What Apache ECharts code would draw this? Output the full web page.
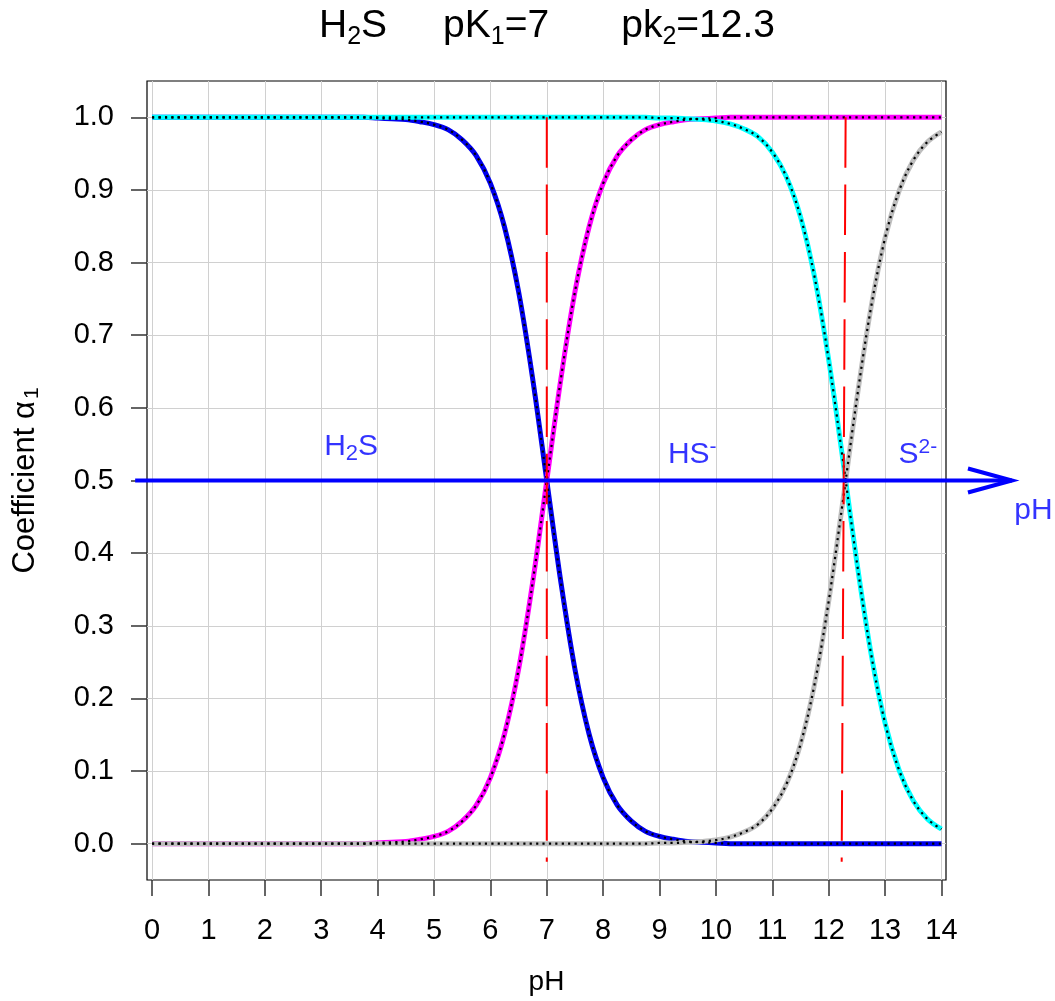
<!DOCTYPE html>
<html>
<head>
<meta charset="utf-8">
<script src="https://cdn.jsdelivr.net/npm/echarts@6/dist/echarts.min.js"></script>
<style>
html, body { margin: 0; padding: 0; background: #fff; }
#chart { width: 1055px; height: 1001px; }
</style>
</head>
<body>
<div id="chart"></div>
<script>
var ph = [0, 0.25, 0.5, 0.75, 1, 1.25, 1.5, 1.75, 2, 2.25, 2.5, 2.75, 3, 3.25, 3.5, 3.75,
  4, 4.25, 4.5, 4.75, 5, 5.25, 5.5, 5.75, 6, 6.25, 6.5, 6.75, 7, 7.25, 7.5, 7.75,
  8, 8.25, 8.5, 8.75, 9, 9.25, 9.5, 9.75, 10, 10.25, 10.5, 10.75, 11, 11.25, 11.5, 11.75,
  12, 12.25, 12.5, 12.75, 13, 13.25, 13.5, 13.75, 14];

// blue: H2S
var alphaBlue = [1, 1, 1, 1, 1, 1, 1, 1, 1, 1, 1, 1, 1, 1, 1, 1,
  0.999, 0.998, 0.997, 0.994, 0.990, 0.983, 0.969, 0.947, 0.909, 0.849, 0.760, 0.640, 0.500, 0.360, 0.240, 0.151,
  0.091, 0.053, 0.031, 0.017, 0.010, 0.006, 0.003, 0.002, 0.001, 0, 0, 0, 0, 0, 0, 0,
  0, 0, 0, 0, 0, 0, 0, 0, 0];
// magenta: HS- (first step)
var alphaMagenta = [0, 0, 0, 0, 0, 0, 0, 0, 0, 0, 0, 0, 0, 0, 0, 0,
  0.001, 0.002, 0.003, 0.006, 0.010, 0.017, 0.031, 0.053, 0.091, 0.151, 0.240, 0.360, 0.500, 0.640, 0.760, 0.849,
  0.909, 0.947, 0.969, 0.983, 0.990, 0.994, 0.997, 0.998, 0.999, 1, 1, 1, 1, 1, 1, 1,
  1, 1, 1, 1, 1, 1, 1, 1, 1];
// cyan: HS- (second step)
var alphaCyan = [1, 1, 1, 1, 1, 1, 1, 1, 1, 1, 1, 1, 1, 1, 1, 1,
  1, 1, 1, 1, 1, 1, 1, 1, 1, 1, 1, 1, 1, 1, 1, 1,
  1, 1, 1, 1, 0.999, 0.999, 0.998, 0.997, 0.995, 0.991, 0.984, 0.973, 0.952, 0.918, 0.863, 0.780,
  0.666, 0.529, 0.387, 0.262, 0.166, 0.101, 0.059, 0.034, 0.020];
// gray: S2-
var alphaGray = [0, 0, 0, 0, 0, 0, 0, 0, 0, 0, 0, 0, 0, 0, 0, 0,
  0, 0, 0, 0, 0, 0, 0, 0, 0, 0, 0, 0, 0, 0, 0, 0,
  0, 0, 0, 0, 0.001, 0.001, 0.002, 0.003, 0.005, 0.009, 0.016, 0.027, 0.048, 0.082, 0.137, 0.220,
  0.334, 0.471, 0.613, 0.738, 0.834, 0.899, 0.941, 0.966, 0.980];

var xTicks = [0, 1, 2, 3, 4, 5, 6, 7, 8, 9, 10, 11, 12, 13, 14];
var yTicks = [0, 0.1, 0.2, 0.3, 0.4, 0.5, 0.6, 0.7, 0.8, 0.9, 1.0];

// red dashed pK markers: [x top, y top, x bottom, y bottom]
var pk1Line = [7, 1, 7, -0.025];
var pk2Line = [12.3, 1, 12.23, -0.025];

// blue pH arrow
var arrowFrom = -0.3;
var arrowTo = 15.25;
var arrowY = 0.5;

// species labels
var labelText = ['{m|H}{s|2}{m|S}', '{m|HS}{p|-}', '{m|S}{p|2-}', '{m|pH}'];
var labelX = [3.53, 9.58, 13.58, 15.63];
var labelY = [0.546, 0.536, 0.536, 0.458];

var font = 'Liberation Sans, Arial, Helvetica, sans-serif';

function pairs(ys) {
  return ph.map(function (x, i) { return [x, ys[i]]; });
}

function curve(name, ys, color) {
  return {
    name: name, type: 'line', data: pairs(ys), z: 2,
    symbol: 'none', smooth: 0.35,
    lineStyle: { color: color, width: 5, join: 'round' }
  };
}

function dots(ys) {
  return {
    type: 'line', data: pairs(ys), z: 3,
    symbol: 'none', smooth: 0.35,
    lineStyle: { color: '#000', width: 2.2, type: [2.2, 4.2] }
  };
}

function redLine(l) {
  return {
    type: 'line', data: [[l[0], l[1]], [l[2], l[3]]], z: 4, symbol: 'none', clip: false,
    lineStyle: { color: '#FF0000', width: 2, type: [50.5, 16.8] }
  };
}

var gridLines = xTicks.map(function (v) { return { xAxis: v }; })
  .concat(yTicks.map(function (v) { return { yAxis: v }; }));

var chart = echarts.init(document.getElementById('chart'));
window.addEventListener('resize', function () {
  chart.resize();
});

var option = {
  animation: false,
  title: {
    text: '{m|H}{s|2}{m|S}{g1| }{m|pK}{s|1}{m|=7}{g2| }{m|pk}{s|2}{m|=12.3}',
    left: 547,
    top: 2,
    textAlign: 'center',
    padding: 0,
    textStyle: {
      fontWeight: 'normal',
      rich: {
        m: { fontSize: 39, lineHeight: 48, fontFamily: font, fontWeight: 'normal', color: '#000' },
        s: { fontSize: 25, lineHeight: 12, verticalAlign: 'bottom', fontFamily: font, fontWeight: 'normal', color: '#000' },
        g1: { width: 56, fontSize: 39, lineHeight: 48 },
        g2: { width: 72, fontSize: 39, lineHeight: 48 }
      }
    }
  },
  grid: {
    left: 147, right: 109, top: 81, bottom: 121,
    show: true, borderColor: '#000', borderWidth: 1.2, backgroundColor: '#fff'
  },
  xAxis: {
    type: 'value', min: -0.09, max: 14.08,
    axisLine: { show: false, onZero: false },
    axisTick: { show: true, customValues: xTicks, length: 16, lineStyle: { color: '#333', width: 1.5 } },
    axisLabel: { customValues: xTicks, margin: 36, fontSize: 29, color: '#000', fontFamily: font },
    splitLine: { show: false },
    name: 'pH', nameLocation: 'middle', nameGap: 88,
    nameTextStyle: { fontSize: 28, color: '#000', fontFamily: font }
  },
  yAxis: {
    type: 'value', min: -0.05, max: 1.05,
    axisLine: { show: false, onZero: false },
    axisTick: { show: true, customValues: yTicks, length: 16, lineStyle: { color: '#333', width: 1.5 } },
    axisLabel: {
      customValues: yTicks, margin: 33, fontSize: 29, color: '#000', fontFamily: font,
      formatter: function (v) { return v.toFixed(1); }
    },
    splitLine: { show: false },
    name: '{m|Coefficient α}{s|1}', nameLocation: 'middle', nameGap: 104, nameRotate: 90,
    nameTextStyle: {
      rich: {
        m: { fontSize: 31, lineHeight: 36, color: '#000', fontFamily: font },
        s: { fontSize: 21, lineHeight: 8, verticalAlign: 'bottom', color: '#000', fontFamily: font, padding: [0, 0, 0, 2] }
      }
    }
  },
  series: [
    {
      type: 'line', data: [], z: 1,
      markLine: {
        z: 1, silent: true, symbol: 'none', animation: false,
        label: { show: false },
        lineStyle: { color: '#D0D0D0', width: 1, type: 'solid' },
        emphasis: { disabled: true },
        data: gridLines
      }
    },
    curve('H2S', alphaBlue, '#0000EE'),
    curve('HS- a', alphaMagenta, '#FF00FF'),
    curve('HS- b', alphaCyan, '#00FFFF'),
    curve('S2-', alphaGray, '#BEBEBE'),
    dots(alphaBlue),
    dots(alphaMagenta),
    dots(alphaCyan),
    dots(alphaGray),
    redLine(pk1Line),
    redLine(pk2Line),
    {
      type: 'scatter', z: 6, clip: false, symbolSize: 0, silent: true,
      data: labelX.map(function (x, i) {
        return { value: [x, labelY[i]], label: { formatter: labelText[i] } };
      }),
      label: {
        show: true, position: 'inside',
        rich: {
          m: { fontSize: 30, lineHeight: 36, color: '#0000FF', fontFamily: font },
          s: { fontSize: 22, lineHeight: 8, verticalAlign: 'bottom', color: '#0000FF', fontFamily: font },
          p: { fontSize: 21, lineHeight: 27, verticalAlign: 'top', color: '#0000FF', fontFamily: font }
        }
      }
    }
  ]
};

chart.setOption(option);

// the pH arrow reaches past the plot box, so draw it from its data ends
var a0 = chart.convertToPixel({ gridIndex: 0 }, [arrowFrom, arrowY]);
var a1 = chart.convertToPixel({ gridIndex: 0 }, [arrowTo, arrowY]);
chart.setOption({
  graphic: [
    {
      type: 'polyline', z: 50, silent: true,
      shape: { points: [a0, a1] },
      style: { stroke: '#0000FF', lineWidth: 4, fill: null }
    },
    {
      type: 'polyline', z: 50, silent: true,
      shape: { points: [[a1[0] - 44, a1[1] - 12], a1, [a1[0] - 44, a1[1] + 12]] },
      style: { stroke: '#0000FF', lineWidth: 4, fill: null }
    }
  ]
});
</script>
</body>
</html>
